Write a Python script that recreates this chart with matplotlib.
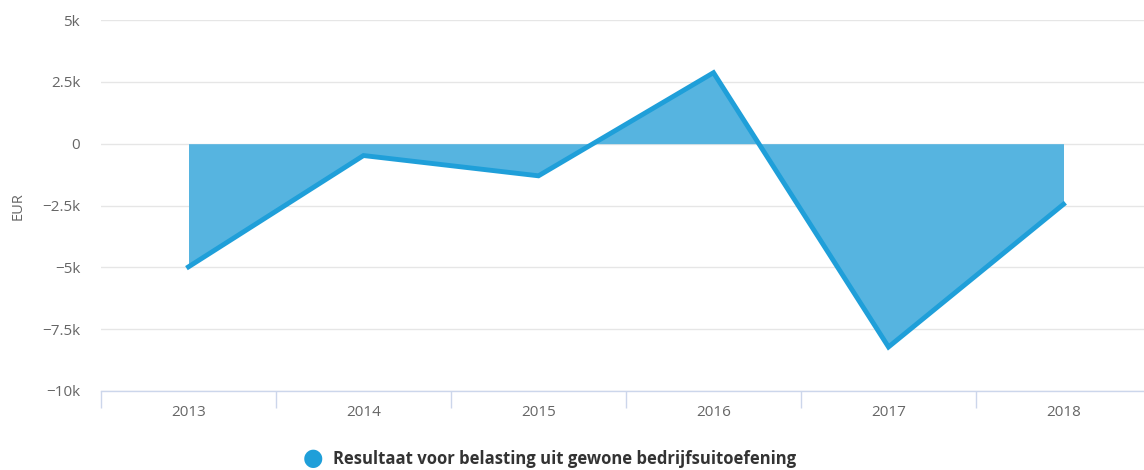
import matplotlib
matplotlib.use("Agg")
import matplotlib.pyplot as plt
import numpy as np

years = ["2013", "2014", "2015", "2016", "2017", "2018"]
values = [-4980, -480, -1300, 2870, -8220, -2450]
series_name = "Resultaat voor belasting uit gewone bedrijfsuitoefening"
ytick_vals = [-10000, -7500, -5000, -2500, 0, 2500, 5000]
ytick_labels = ["\u221210k", "\u22127.5k", "\u22125k", "\u22122.5k", "0", "2.5k", "5k"]

plt.rcParams['font.family'] = ['Open Sans', 'DejaVu Sans']

fig = plt.figure(figsize=(11.44, 4.70), dpi=100)
ax = fig.add_axes([101/1144, 1-391/470, 1-101/1144, (391-20)/470])

x = np.arange(len(years))
ax.fill_between(x, values, 0, color="#56b4e0", linewidth=0, zorder=2)
ax.plot(x, values, color="#1f9fd9", linewidth=3.5, solid_joinstyle="miter", zorder=3)

ax.set_yticks(ytick_vals)
ax.set_yticklabels(ytick_labels)
ax.grid(axis="y", color="#e6e6e6", linewidth=1, zorder=0)
ax.set_axisbelow(True)

ax.set_xticks(x)
ax.set_xticklabels(years)
ax.set_xticks(np.arange(-0.5, len(years), 1), minor=True)
ax.set_xlim(-0.5, (1144-101)/175 - 0.5)
ax.set_ylim(-10000, 5000)
ax.tick_params(axis="x", which="major", length=0, pad=10, labelsize=11, labelcolor="#666666")
ax.tick_params(axis="x", which="minor", length=12, color="#ccd6eb", width=1)
ax.tick_params(axis="y", length=0, pad=15, labelsize=11, labelcolor="#666666")

for s in ["top", "right", "left"]:
    ax.spines[s].set_visible(False)
ax.spines["bottom"].set_color("#ccd6eb")
ax.spines["bottom"].set_linewidth(1)

fig.text(18/1144, 1-206/470, "EUR", rotation=90, ha="center", va="center",
         fontsize=10.5, color="#666666")

# legend
fig.text(313/1144, 1-459/470, "\u25CF", ha="center", va="center", fontsize=17, color="#1f9fd9")
fig.text(333/1144, 1-459/470, series_name, ha="left", va="center",
         fontsize=12, fontweight="bold", color="#333333")

fig.savefig("out.png", dpi=100)
